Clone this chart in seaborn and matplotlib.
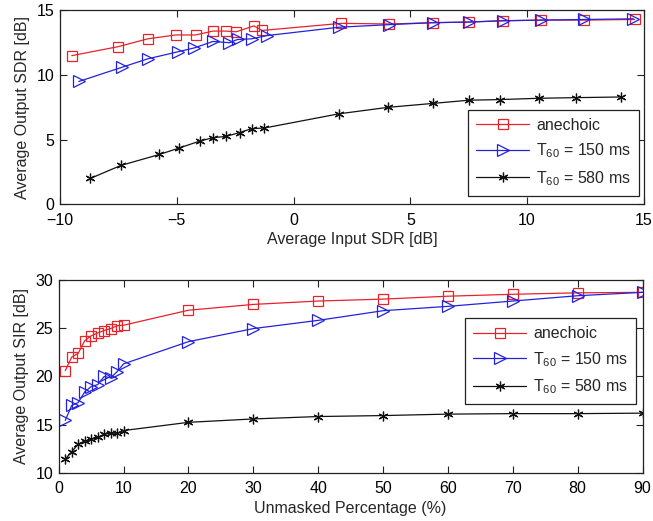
import pandas as pd
import seaborn as sns
from matplotlib import pyplot as plt

# top panel: output SDR vs input SDR
sdr_anechoic_x = [-9.5, -7.5, -6.25, -5.05, -4.2, -3.45, -2.9, -2.45, -1.7, -1.35,
                  2.05, 4.1, 5.95, 7.5, 8.95, 10.6, 12.45, 14.6]
sdr_anechoic_y = [11.5, 12.2, 12.8, 13.1, 13.1, 13.4, 13.4, 13.35, 13.8, 13.45,
                  14.0, 13.95, 14.05, 14.1, 14.2, 14.25, 14.25, 14.3]
sdr_t150_x = [-9.2, -7.35, -6.25, -4.95, -4.25, -3.45, -2.75, -2.4, -1.8, -1.15,
              1.95, 4.1, 5.95, 7.5, 8.95, 10.6, 12.45, 14.55]
sdr_t150_y = [9.5, 10.6, 11.25, 11.8, 12.1, 12.6, 12.5, 12.75, 12.8, 13.05,
              13.7, 13.9, 14.05, 14.1, 14.2, 14.25, 14.3, 14.35]
sdr_t580_x = [-8.7, -7.4, -5.75, -4.9, -4.0, -3.45, -2.9, -2.3, -1.8, -1.25,
              1.95, 4.05, 5.95, 7.5, 8.85, 10.5, 12.1, 14.0]
sdr_t580_y = [2.0, 3.0, 3.85, 4.35, 4.9, 5.15, 5.25, 5.55, 5.85, 5.9,
              7.0, 7.5, 7.8, 8.05, 8.1, 8.2, 8.25, 8.3]

# bottom panel: output SIR vs unmasked percentage
pct = [1, 2, 3, 4, 5, 6, 7, 8, 9, 10, 20, 30, 40, 50, 60, 70, 80, 90]
sir_anechoic = [20.6, 22.0, 22.4, 23.7, 24.2, 24.5, 24.75, 24.95, 25.25, 25.3,
                26.85, 27.45, 27.8, 28.0, 28.3, 28.5, 28.65, 28.7]
sir_t150 = [15.45, 17.0, 17.3, 18.4, 18.95, 19.15, 20.0, 19.85, 20.5, 21.3,
            23.6, 24.95, 25.8, 26.8, 27.25, 27.8, 28.35, 28.7]
sir_t580 = [11.45, 12.2, 13.0, 13.3, 13.5, 13.7, 14.0, 14.15, 14.1, 14.4,
            15.25, 15.6, 15.85, 15.95, 16.1, 16.15, 16.15, 16.2]

labels = ["anechoic", "T$_{60}$ = 150 ms", "T$_{60}$ = 580 ms"]
colors = ["#e8222a", "#2222dd", "#111111"]
markers = ["s", ">", (6, 2, 0)]
msizes = [7, 9, 7]

FONT = "Liberation Sans"
FS = 11.5

sns.set_theme(style="white")
plt.rcParams["font.family"] = [FONT, "DejaVu Sans"]
plt.rcParams["mathtext.fontset"] = "custom"
plt.rcParams["mathtext.rm"] = FONT
plt.rcParams["mathtext.default"] = "regular"
plt.rcParams["xtick.direction"] = "in"
plt.rcParams["ytick.direction"] = "in"

fig = plt.figure(figsize=(6.53, 5.21), dpi=100)
ax1 = fig.add_axes([0.092, 0.608, 0.894, 0.372])
ax2 = fig.add_axes([0.090, 0.092, 0.894, 0.371])


def draw(ax, series):
    for (x, y), lab, c, m, ms in zip(series, labels, colors, markers, msizes):
        df = pd.DataFrame({"x": x, "y": y})
        sns.lineplot(data=df, x="x", y="y", ax=ax, color=c, marker=m,
                     markersize=ms, markerfacecolor="none", markeredgecolor=c,
                     markeredgewidth=0.9, linewidth=0.9, label=lab,
                     estimator=None, sort=False)
    for s in ax.spines.values():
        s.set_color("#222222")
        s.set_linewidth(0.9)
    ax.tick_params(axis="both", which="both", top=True, right=True,
                   bottom=True, left=True, length=5, width=0.8,
                   labelsize=FS, colors="#222222", labelcolor="black", pad=4)
    ax.tick_params(axis="x", pad=6)


def legend(ax, anchor):
    lg = ax.legend(loc="lower right", bbox_to_anchor=anchor, fontsize=FS,
                   frameon=True, fancybox=False, edgecolor="#222222",
                   framealpha=1, handlelength=3.3, handletextpad=0.45,
                   borderpad=0.5, labelspacing=0.55, borderaxespad=0)
    lg.get_frame().set_linewidth(0.9)


draw(ax1, [(sdr_anechoic_x, sdr_anechoic_y), (sdr_t150_x, sdr_t150_y),
           (sdr_t580_x, sdr_t580_y)])
ax1.set_xlim(-10, 15)
ax1.set_ylim(0, 15)
ax1.set_xticks(range(-10, 16, 5))
ax1.set_yticks(range(0, 16, 5))
ax1.set_xlabel("Average Input SDR [dB]", fontsize=FS, labelpad=3)
ax1.set_ylabel("Average Output SDR [dB]", fontsize=FS, labelpad=5)
legend(ax1, (0.992, 0.045))

draw(ax2, [(pct, sir_anechoic), (pct, sir_t150), (pct, sir_t580)])
ax2.set_xlim(0, 90)
ax2.set_ylim(10, 30)
ax2.set_xticks(range(0, 91, 10))
ax2.set_yticks(range(10, 31, 5))
ax2.set_xlabel("Unmasked Percentage (%)", fontsize=FS, labelpad=3)
ax2.set_ylabel("Average Output SIR [dB]", fontsize=FS, labelpad=5)
legend(ax2, (0.989, 0.357))

fig.savefig("out.png", dpi=100)
